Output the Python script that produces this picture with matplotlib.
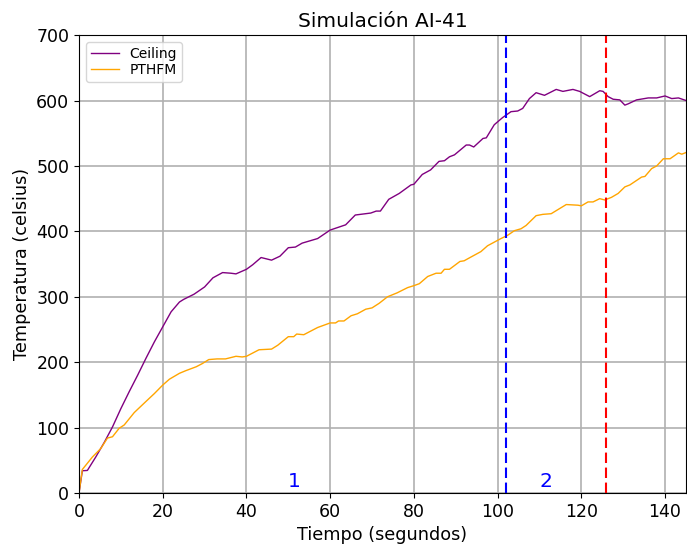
import matplotlib
matplotlib.use("Agg")
import matplotlib.pyplot as plt

ceiling_t = [0, 0.8, 2, 4, 6, 8, 10, 12, 14, 16, 18, 20, 22, 24, 25, 27.5, 30, 32, 34.3, 36.3, 37.5,
             40, 41.5, 43.5, 46, 48, 50, 51.7, 53.3, 57, 60, 63.7, 66, 69.7, 71, 72, 74, 76.5, 79.3,
             80, 82, 84, 86, 87.3, 88.5, 89.7, 92.5, 93.3, 94.3, 96.5, 97.3, 99.2, 101.2, 103.2,
             104.8, 106, 107.6, 109.2, 111.2, 114, 115.6, 118, 119.6, 122, 124.4, 125.2, 126.4,
             127.6, 129.2, 130.4, 131.2, 133.2, 136, 138, 140, 141.6, 143.2, 145.5]
ceiling_v = [0, 34, 34.5, 55, 77, 101, 129, 155, 180, 206, 231, 254, 277, 292, 296, 304, 315, 329, 337,
             336, 335, 342, 349, 360, 356, 362, 375, 376, 382, 389, 402, 410, 425, 428, 431, 431, 449,
             458, 471, 472, 487, 494, 507, 508, 514, 517, 532, 532, 529, 542, 543, 563, 574, 583, 584,
             588, 603, 612, 608, 617, 614, 617, 614, 606, 615, 614, 606, 602, 601, 593, 595, 601, 604,
             604, 607, 603, 604, 599]

pthfm_t = [0, 0.8, 3.2, 5.2, 6.8, 8, 9.6, 10.8, 13.2, 16, 18, 20, 21.6, 24, 25.5, 28, 29.5, 31, 33, 35,
           37.5, 39, 40, 41.5, 43, 46, 47.5, 50, 51.3, 52, 53.7, 57, 60, 61.3, 62, 63.3, 65, 66.5,
           68.5, 70, 71.7, 73.7, 76, 78.5, 80, 81.3, 83.3, 85.3, 86.5, 87.3, 88.5, 91, 92, 93.7, 96,
           97.6, 100.8, 102.4, 104, 105.6, 106.8, 109.2, 110.8, 112.8, 116.4, 119.2, 120, 121.6,
           122.8, 124.4, 125.6, 127.2, 128.8, 130.4, 131.6, 134.4, 135.2, 136.8, 138, 139.6, 141.2,
           143.2, 144, 145.6]
pthfm_v = [0, 36, 55, 68, 84, 86, 99, 104, 123, 140, 152, 165, 174, 183, 187, 193, 198, 204, 205, 205,
           209, 208, 209, 214, 219, 220, 226, 239, 239, 243, 242, 253, 260, 260, 263, 263, 271, 274,
           281, 283, 290, 300, 306, 314, 317, 320, 331, 336, 336, 342, 342, 354, 355, 361, 369,
           378, 389, 394, 401, 404, 409, 424, 426, 427, 441, 440, 439, 445, 445, 450, 448, 452, 458,
           468, 471, 483, 484, 496, 500, 511, 511, 520, 518, 522]

stage_lines = [102, 126]
stage_colors = ["blue", "red"]
stage_labels = ["1", "2"]
stage_label_x = [50, 110]

fig = plt.figure(figsize=(6.87, 5.49), dpi=100)
ax = fig.add_axes([0.115, 0.102, 0.8835, 0.834])

ax.plot(ceiling_t, ceiling_v, color="purple", lw=1, label="Ceiling")
ax.plot(pthfm_t, pthfm_v, color="orange", lw=1, label="PTHFM")
for xv, c in zip(stage_lines, stage_colors):
    ax.axvline(xv, color=c, ls=(0, (5, 2.2)), lw=1.5)
for xl, s in zip(stage_label_x, stage_labels):
    ax.text(xl, 9, s, color="blue", fontsize=14.5, ha="left", va="baseline")

ax.set_xlim(0, 145)
ax.set_ylim(0, 700)
ax.set_xticks(range(0, 141, 20))
ax.set_yticks(range(0, 701, 100))
ax.grid(True, color="#b0b0b0", lw=1.2)
ax.set_axisbelow(True)
ax.tick_params(labelsize=12.5)
ax.set_title("Simulación AI-41", fontsize=14.5)
ax.set_xlabel("Tiempo (segundos)", fontsize=12.7)
ax.set_ylabel("Temperatura (celsius)", fontsize=12.7)
ax.legend(loc="upper left", fontsize=10, labelspacing=0.15, borderpad=0.35)

fig.savefig("out.png", dpi=100)
